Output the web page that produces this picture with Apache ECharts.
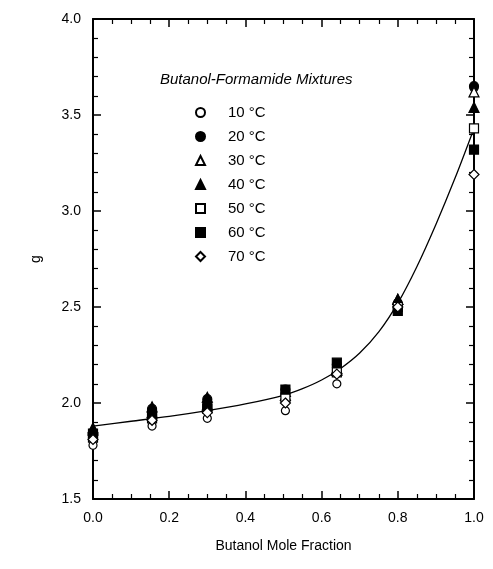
<!DOCTYPE html>
<html>
<head>
<meta charset="utf-8">
<script src="https://cdn.jsdelivr.net/npm/echarts@6/dist/echarts.min.js"></script>
<style>html,body{margin:0;padding:0;background:#fff}#c{width:493px;height:569px}</style>
</head>
<body>
<div id="c"></div>
<script>
const xFrac = [0, 0.155, 0.30, 0.505, 0.64, 0.80, 1.0];
const seriesNames = ['10 °C', '20 °C', '30 °C', '40 °C', '50 °C', '60 °C', '70 °C'];
const g10 = [1.78, 1.88, 1.92, 1.96, 2.10, 2.51, 3.64];
const g20 = [1.83, 1.97, 2.02, 2.07, 2.20, 2.52, 3.65];
const g30 = [1.86, 1.95, 1.99, 2.04, 2.17, 2.54, 3.62];
const g40 = [1.87, 1.98, 2.03, 2.06, 2.18, 2.54, 3.54];
const g50 = [1.82, 1.92, 1.97, 2.03, 2.16, 2.50, 3.43];
const g60 = [1.84, 1.94, 1.98, 2.07, 2.21, 2.48, 3.32];
const g70 = [1.81, 1.91, 1.95, 2.00, 2.15, 2.50, 3.19];
const fitX = [0, 0.1, 0.2, 0.3, 0.4, 0.5, 0.55, 0.6, 0.65, 0.7, 0.75, 0.8, 0.85, 0.9, 0.95, 1.0];
const fitY = [1.88, 1.905, 1.93, 1.96, 1.995, 2.04, 2.075, 2.12, 2.18, 2.26, 2.37, 2.52, 2.71, 2.93, 3.17, 3.43];
const xTicks = [0, 0.2, 0.4, 0.6, 0.8, 1.0];
const yTicks = [1.5, 2.0, 2.5, 3.0, 3.5, 4.0];

const allG = [g10, g20, g30, g40, g50, g60, g70];
const symbols = ['circle', 'circle', 'triangle', 'triangle', 'rect', 'rect', 'diamond'];
const filled = [false, true, false, true, false, true, false];
const sizes = [8, 9, 10, 10, 9, 9, 10];

const chart = echarts.init(document.getElementById('c'), null, {renderer: 'canvas'});
const font = 'Liberation Sans, Arial, sans-serif';
const axisBase = {
  axisLine: {show: true, onZero: false, lineStyle: {color: '#000', width: 2}},
  axisTick: {show: true, inside: true, length: 8, lineStyle: {color: '#000', width: 1.5}},
  minorTick: {show: true, length: 5, lineStyle: {color: '#000', width: 1.2}},
  splitLine: {show: false},
  minorSplitLine: {show: false}
};
const xAxisCommon = Object.assign({}, axisBase, {type: 'value', min: 0, max: 1, interval: 0.2,
  minorTick: Object.assign({}, axisBase.minorTick, {splitNumber: 4})});
const yAxisCommon = Object.assign({}, axisBase, {type: 'value', min: 1.5, max: 4, interval: 0.5,
  minorTick: Object.assign({}, axisBase.minorTick, {splitNumber: 5})});

const series = [{
  type: 'line', name: 'fit', data: fitX.map((x, i) => [x, fitY[i]]),
  smooth: 0.3, symbol: 'none', lineStyle: {color: '#000', width: 1.3}, z: 1, silent: true
}];
seriesNames.forEach((n, i) => {
  series.push({
    type: 'scatter', name: n, data: xFrac.map((x, j) => [x, allG[i][j]]),
    symbol: symbols[i], symbolSize: sizes[i],
    itemStyle: {color: filled[i] ? '#000' : '#fff', borderColor: '#000', borderWidth: 1.2, opacity: 1},
    z: 2 + i
  });
});

chart.setOption({
  animation: false,
  backgroundColor: '#fff',
  textStyle: {fontFamily: font},
  grid: {left: 93, right: 19, top: 19, bottom: 70},
  title: {
    text: 'Butanol-Formamide Mixtures', left: 155, top: 67,
    textStyle: {fontFamily: font, fontStyle: 'italic', fontWeight: 'normal', fontSize: 15, color: '#000'}
  },
  legend: {
    show: true, orient: 'vertical', left: 190, top: 100, itemGap: 9,
    itemWidth: 9, itemHeight: 9,
    data: seriesNames,
    textStyle: {fontFamily: font, fontSize: 15, color: '#000', padding: [0, 0, 0, 18]},
    selectedMode: false
  },
  xAxis: [
    Object.assign({}, xAxisCommon, {
      position: 'bottom', name: 'Butanol Mole Fraction', nameLocation: 'middle', nameGap: 40,
      nameTextStyle: {fontFamily: font, fontSize: 14, color: '#000'},
      axisLabel: {show: true, color: '#000', fontSize: 14, fontFamily: font, margin: 12,
        formatter: v => v.toFixed(1)}
    }),
    Object.assign({}, xAxisCommon, {position: 'top', axisLabel: {show: false}})
  ],
  yAxis: [
    Object.assign({}, yAxisCommon, {
      position: 'left', name: 'g', nameLocation: 'middle', nameGap: 50, nameRotate: 90,
      nameTextStyle: {fontFamily: font, fontSize: 14, color: '#000'},
      axisLabel: {show: true, color: '#000', fontSize: 14, fontFamily: font, margin: 12,
        formatter: v => v.toFixed(1)}
    }),
    Object.assign({}, yAxisCommon, {position: 'right', axisLabel: {show: false}})
  ],
  series: series
});
</script>
</body>
</html>
